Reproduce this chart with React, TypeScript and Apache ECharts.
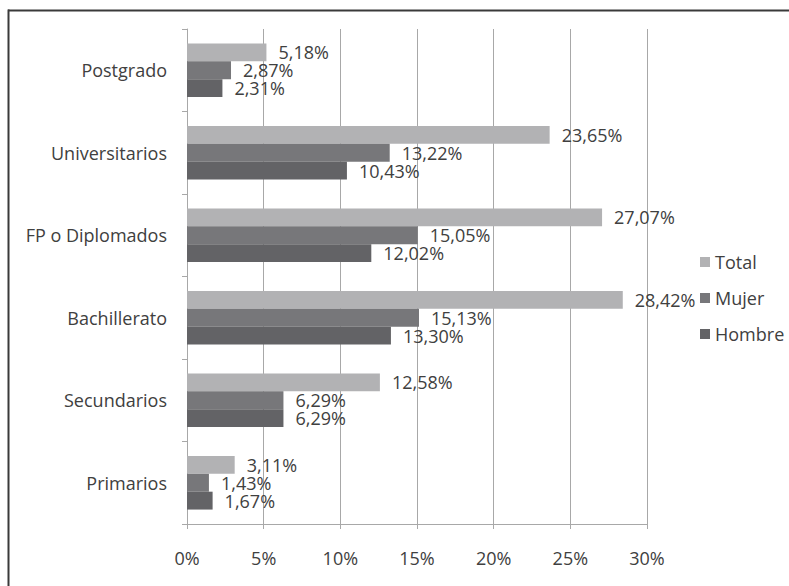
import React, { useEffect, useRef } from "react";
import * as echarts from "echarts";

const categories = ["Primarios", "Secundarios", "Bachillerato", "FP o Diplomados", "Universitarios", "Postgrado"];
const totalValues = [3.11, 12.58, 28.42, 27.07, 23.65, 5.18];
const mujerValues = [1.43, 6.29, 15.13, 15.05, 13.22, 2.87];
const hombreValues = [1.67, 6.29, 13.3, 12.02, 10.43, 2.31];
const legendNames = ["Total", "Mujer", "Hombre"];

const FONT = "Open Sans";
const FS = 18;
const TEXT = "#404040";
const fmt = (v: number) => v.toFixed(2).replace(".", ",") + "%";

export default function App() {
  const ref = useRef<HTMLDivElement>(null);
  useEffect(() => {
    if (!ref.current) return;
    const chart = echarts.init(ref.current, undefined, { renderer: "svg" });
    const labelCfg = {
      show: true,
      position: "right",
      distance: 12,
      color: TEXT,
      fontFamily: FONT,
      fontSize: FS,
      lineHeight: 18,
      formatter: (p: any) => fmt(p.value),
    };
    const mk = (name: string, data: number[], color: string) => ({
      name,
      type: "bar",
      data,
      barGap: "0%",
      barCategoryGap: "35%",
      itemStyle: { color },
      label: labelCfg,
    });
    chart.setOption({
      animation: false,
      backgroundColor: "#ffffff",
      textStyle: { fontFamily: FONT, color: TEXT },
      graphic: [
        {
          type: "rect",
          shape: { x: 8, y: 9.5, width: 781, height: 2 },
          style: { fill: "#3a3a3a" },
          silent: true,
          z: 100,
        },
        {
          type: "rect",
          shape: { x: 7.5, y: 9.5, width: 2, height: 577 },
          style: { fill: "#3a3a3a" },
          silent: true,
          z: 100,
        },
      ],
      grid: { left: 187, right: 142, top: 29, bottom: 62, containLabel: false },
      legend: {
        orient: "vertical",
        left: 695,
        top: 248,
        data: legendNames,
        icon: "rect",
        itemWidth: 10,
        itemHeight: 10,
        itemGap: 18,
        textStyle: { fontFamily: FONT, fontSize: FS, color: TEXT },
      },
      xAxis: {
        type: "value",
        min: 0,
        max: 30,
        interval: 5,
        axisLine: { show: true, lineStyle: { color: "#a8a8a8", width: 1 } },
        axisTick: { show: true, length: 5, lineStyle: { color: "#a8a8a8" } },
        splitLine: { show: true, lineStyle: { color: "#a8a8a8", width: 1 } },
        axisLabel: {
          margin: 25,
          fontFamily: FONT,
          fontSize: FS,
          color: TEXT,
          formatter: (v: number) => v + "%",
        },
      },
      yAxis: {
        type: "category",
        data: categories,
        axisLine: { show: true, lineStyle: { color: "#a8a8a8", width: 1 } },
        axisTick: { show: true, length: 5, alignWithLabel: false, lineStyle: { color: "#a8a8a8" } },
        axisLabel: { margin: 20, fontFamily: FONT, fontSize: FS, color: TEXT },
        splitLine: { show: false },
      },
      series: [
        mk("Total", totalValues, "#b2b2b4"),
        mk("Mujer", mujerValues, "#77777a"),
        mk("Hombre", hombreValues, "#636366"),
      ],
    });
    return () => chart.dispose();
  }, []);
  return (
    <div
      ref={ref}
      style={{ position: "fixed", left: 0, top: 0, width: 789, height: 586 }}
    />
  );
}
